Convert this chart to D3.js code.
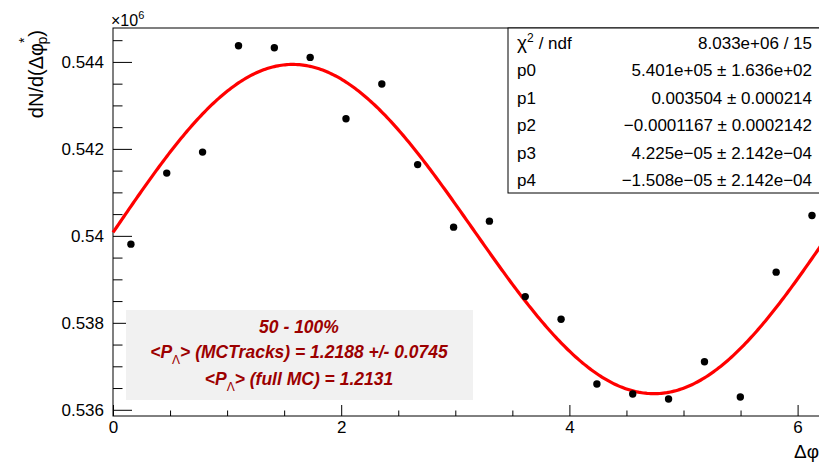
<!DOCTYPE html>
<html>
<head>
<meta charset="utf-8">
<script src="https://cdn.jsdelivr.net/npm/d3@7"></script>
<style>
  body { margin: 0; background: #fff; }
  svg { display: block; font-family: "Liberation Sans", Arial, Helvetica, sans-serif; }
</style>
</head>
<body>
<svg id="chart" width="819" height="463"></svg>
<script>
// Δφ bin centres (20 bins over [0, 2π]) and entries per bin
const binCenters = [0.157, 0.471, 0.785, 1.100, 1.414, 1.728, 2.042, 2.356, 2.670, 2.985,
                    3.299, 3.613, 3.927, 4.241, 4.555, 4.869, 5.184, 5.498, 5.812, 6.126];
const counts = [539809, 541443, 541926, 544373, 544327, 544104, 542693, 543491, 541639, 540200,
                540338, 538603, 538083, 536594, 536364, 536249, 537105, 536295, 539165, 540467];

// Fit: p0 * (1 + 2 p1 sinΔφ + p2 cosΔφ + p3 sin2Δφ + p4 cos2Δφ)
const fitParams = [540149, 0.003504, -0.0001167, 4.225e-05, -1.508e-05];

// Statistics box rows
const statLabels = ["p0", "p1", "p2", "p3", "p4"];
const statTexts = ["5.401e+05 \u00b1 1.636e+02",
                   "0.003504 \u00b1 0.000214",
                   "\u22120.0001167 \u00b1 0.0002142",
                   "4.225e\u221205 \u00b1 2.142e\u221204",
                   "\u22121.508e\u221205 \u00b1 2.142e\u221204"];
const chi2Text = "8.033e+06 / 15";

// Axis ticks
const xMajorTicks = [0, 2, 4, 6];
const yMajorTicks = [536000, 538000, 540000, 542000, 544000];
const yTickLabels = ["0.536", "0.538", "0.54", "0.542", "0.544"];

// Annotation text
const centrality = "50 - 100%";
const polMCTracks = "1.2188 +/- 0.0745";
const polFullMC = "1.2131";

const svg = d3.select("#chart");

const xMin = 0, xMax = 2 * Math.PI;
const yMin = 535857, yMax = 544780;
const frame = { left: 113, top: 28, bottom: 416, right: 113 + 2 * Math.PI * 114.1 };

const x = d3.scaleLinear().domain([xMin, xMax]).range([frame.left, frame.right]);
const y = d3.scaleLinear().domain([yMin, yMax]).range([frame.bottom, frame.top]);

// Frame
svg.append("rect")
  .attr("x", frame.left).attr("y", frame.top)
  .attr("width", frame.right - frame.left).attr("height", frame.bottom - frame.top)
  .attr("fill", "none").attr("stroke", "#000").attr("stroke-width", 1);

// Minor ticks
const yMinor = [];
for (let v = 535500; v <= yMax; v += 500) if (v >= yMin && v % 2000 !== 0) yMinor.push(v);
const xMinor = [];
for (let k = 1; k * 0.5 <= xMax; k++) if (k % 4 !== 0) xMinor.push(k * 0.5);

svg.append("g")
  .attr("transform", `translate(${frame.left},0)`)
  .call(d3.axisLeft(y).tickValues(yMinor).tickFormat("").tickSizeInner(-9.5).tickSizeOuter(0))
  .call(g => g.select(".domain").remove());

svg.append("g")
  .attr("transform", `translate(0,${frame.bottom})`)
  .call(d3.axisBottom(x).tickValues(xMinor).tickFormat("").tickSizeInner(-5.5).tickSizeOuter(0))
  .call(g => g.select(".domain").remove());

// Major ticks + labels
const yAxis = svg.append("g")
  .attr("transform", `translate(${frame.left},0)`)
  .call(d3.axisLeft(y).tickValues(yMajorTicks)
        .tickFormat((d, i) => yTickLabels[i]).tickSizeInner(-19).tickSizeOuter(0).tickPadding(9))
  .call(g => g.select(".domain").remove());
yAxis.selectAll("text").attr("font-size", 17).attr("fill", "#000")
  .attr("font-family", "'Liberation Sans', Arial, sans-serif");

const xAxis = svg.append("g")
  .attr("transform", `translate(0,${frame.bottom})`)
  .call(d3.axisBottom(x).tickValues(xMajorTicks).tickFormat(d3.format("d"))
        .tickSizeInner(-11).tickSizeOuter(0).tickPadding(5))
  .call(g => g.select(".domain").remove());
xAxis.selectAll("text").attr("font-size", 17).attr("fill", "#000")
  .attr("font-family", "'Liberation Sans', Arial, sans-serif");

svg.selectAll(".tick line").attr("stroke", "#000").attr("stroke-width", 1);

// ×10^6 exponent
const expo = svg.append("text").attr("x", frame.left - 2).attr("y", 26)
  .attr("font-size", 16).attr("fill", "#000");
expo.append("tspan").text("\u00d710");
expo.append("tspan").attr("font-size", 11).attr("dy", -7).text("6");

// Axis titles
svg.append("text")
  .attr("x", 819).attr("y", 458)
  .attr("text-anchor", "end").attr("font-size", 19).attr("fill", "#000")
  .text("\u0394\u03c6");

const yTitle = svg.append("text")
  .attr("transform", `translate(43,${frame.top + 2}) rotate(-90)`)
  .attr("text-anchor", "end").attr("font-size", 20).attr("fill", "#000");
yTitle.append("tspan").text("dN/d(\u0394\u03c6");
yTitle.append("tspan").attr("font-size", 14).attr("dy", -14).text("*");
yTitle.append("tspan").attr("font-size", 14).attr("dx", -7).attr("dy", 18).text("p");
yTitle.append("tspan").attr("dy", -4).text(")");

// Fit curve
const fitFn = t => fitParams[0] * (1 + 2 * fitParams[1] * Math.sin(t) + fitParams[2] * Math.cos(t)
                   + fitParams[3] * Math.sin(2 * t) + fitParams[4] * Math.cos(2 * t));
const curvePts = d3.range(0, 401).map(i => xMin + (xMax - xMin) * i / 400);
svg.append("path")
  .datum(curvePts)
  .attr("fill", "none").attr("stroke", "#ff0000").attr("stroke-width", 3.2)
  .attr("stroke-linejoin", "round")
  .attr("d", d3.line().x(t => x(t)).y(t => y(fitFn(t))));

// Data points
svg.append("g").selectAll("circle")
  .data(binCenters.map((c, i) => [c, counts[i]]))
  .join("circle")
  .attr("cx", d => x(d[0])).attr("cy", d => y(d[1]))
  .attr("r", 3.7).attr("fill", "#000");

// Statistics box
const box = { x: 508, y: frame.top, w: 340, h: 165 };
svg.append("rect")
  .attr("x", box.x).attr("y", box.y).attr("width", box.w).attr("height", box.h)
  .attr("fill", "#fff").attr("stroke", "#000").attr("stroke-width", 1);
const rowH = box.h / 6;
const chiLabel = svg.append("text").attr("x", 517).attr("y", box.y + rowH * 0.5 + 7)
  .attr("font-size", 17).attr("fill", "#000");
chiLabel.append("tspan").attr("font-size", 19).text("\u03c7");
chiLabel.append("tspan").attr("font-size", 12).attr("dy", -7).text("2");
chiLabel.append("tspan").attr("dx", 5).attr("dy", 7).text("/ ndf");
svg.append("text").attr("x", 812).attr("y", box.y + rowH * 0.5 + 7)
  .attr("text-anchor", "end").attr("font-size", 17).attr("fill", "#000").text(chi2Text);
statLabels.forEach((lab, i) => {
  const yy = box.y + rowH * (i + 1.5) + 7;
  svg.append("text").attr("x", 517).attr("y", yy).attr("font-size", 17).attr("fill", "#000").text(lab);
  svg.append("text").attr("x", 812).attr("y", yy).attr("text-anchor", "end")
    .attr("font-size", 17).attr("fill", "#000").text(statTexts[i]);
});

// Annotation box
svg.append("rect")
  .attr("x", 126).attr("y", 310).attr("width", 347).attr("height", 90)
  .attr("fill", "#f1f1f1");
const noteColor = "#9c0000";
const cx = 299;
function noteLine(yy) {
  return svg.append("text").attr("x", cx).attr("y", yy).attr("text-anchor", "middle")
    .attr("font-size", 17.5).attr("font-weight", "bold").attr("font-style", "italic")
    .attr("fill", noteColor);
}
noteLine(333).text(centrality);
function polLine(yy, tag, val) {
  const t = noteLine(yy);
  t.append("tspan").text("<P");
  t.append("tspan").attr("font-size", 12).attr("font-weight", "normal").attr("font-style", "normal")
    .attr("dy", 6).text("\u039b");
  t.append("tspan").attr("dy", -6).text("> (" + tag + ") = " + val);
}
polLine(358, "MCTracks", polMCTracks);
polLine(385, "full MC", polFullMC);
</script>
</body>
</html>
